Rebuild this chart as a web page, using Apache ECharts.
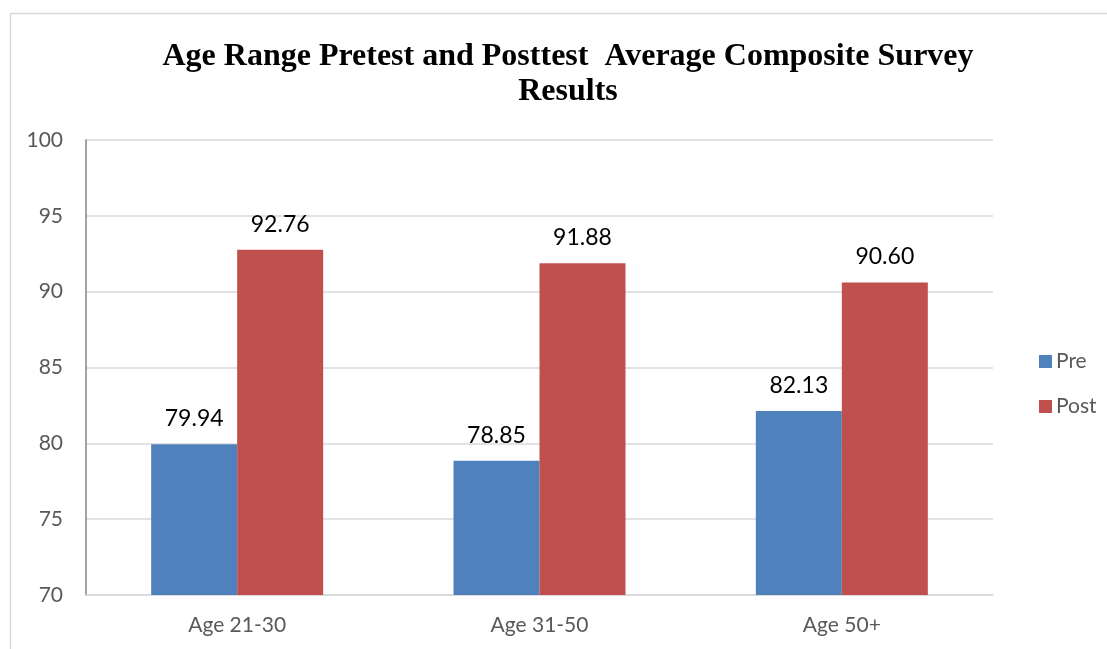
<!DOCTYPE html>
<html>
<head>
<meta charset="utf-8">
<script src="https://cdn.jsdelivr.net/npm/echarts@6/dist/echarts.min.js"></script>
<style>
  html, body { margin: 0; padding: 0; background: #fff; }
  #chartMain { width: 1107px; height: 649px; }
</style>
</head>
<body>
<div id="chartMain"></div>
<script>
// data
var categories = ['Age 21-30', 'Age 31-50', 'Age 50+'];
var preValues = [79.94, 78.85, 82.13];
var postValues = [92.76, 91.88, 90.60];
var legendNames = ['Pre', 'Post'];
var yMin = 70, yMax = 100, yStep = 5;

var myChart = echarts.init(document.getElementById('chartMain'));
var labelFont = 'Lato, "Open Sans", sans-serif';

var option = {
  animation: false,
  color: ['#4f81bd', '#c0504d'],
  graphic: [{
    type: 'rect',
    shape: { x: 10.5, y: 13.5, width: 1200, height: 700 },
    style: { fill: 'none', stroke: '#d9d9d9', lineWidth: 1.5 },
    silent: true
  }],
  title: {
    text: 'Age Range Pretest and Posttest  Average Composite Survey\nResults',
    left: 563,
    top: 34,
    textAlign: 'center',
    textStyle: {
      fontFamily: '"Liberation Serif", serif',
      fontWeight: 'bold',
      fontSize: 32,
      lineHeight: 35,
      color: '#000'
    }
  },
  legend: {
    orient: 'vertical',
    left: 1034,
    top: 346,
    itemWidth: 13,
    itemHeight: 13,
    itemGap: 24,
    icon: 'rect',
    data: legendNames,
    textStyle: { fontFamily: labelFont, fontSize: 21, color: '#595959', padding: [0, 0, 0, -1] }
  },
  grid: { left: 86, right: 114, top: 140, bottom: 54 },
  xAxis: {
    type: 'category',
    data: categories,
    axisTick: { show: false },
    axisLine: { lineStyle: { color: '#d9d9d9', width: 1.5 } },
    axisLabel: { fontFamily: labelFont, fontSize: 21, color: '#595959', margin: 20 }
  },
  yAxis: {
    type: 'value',
    min: yMin,
    max: yMax,
    interval: yStep,
    axisLine: { show: true, lineStyle: { color: '#868686', width: 1.5 } },
    axisTick: { show: false },
    splitLine: { lineStyle: { color: '#d9d9d9', width: 1.5 } },
    axisLabel: { fontFamily: labelFont, fontSize: 21, color: '#595959', margin: 23 }
  },
  series: [
    {
      name: legendNames[0],
      type: 'bar',
      data: preValues,
      barWidth: 86,
      barGap: '0%',
      label: {
        show: true, position: 'top', distance: 14,
        fontFamily: labelFont, fontSize: 23, color: '#000',
        formatter: function (p) { return p.value.toFixed(2); }
      }
    },
    {
      name: legendNames[1],
      type: 'bar',
      data: postValues,
      barWidth: 86,
      barGap: '0%',
      label: {
        show: true, position: 'top', distance: 14,
        fontFamily: labelFont, fontSize: 23, color: '#000',
        formatter: function (p) { return p.value.toFixed(2); }
      }
    }
  ]
};
myChart.setOption(option, true);
</script>
</body>
</html>
